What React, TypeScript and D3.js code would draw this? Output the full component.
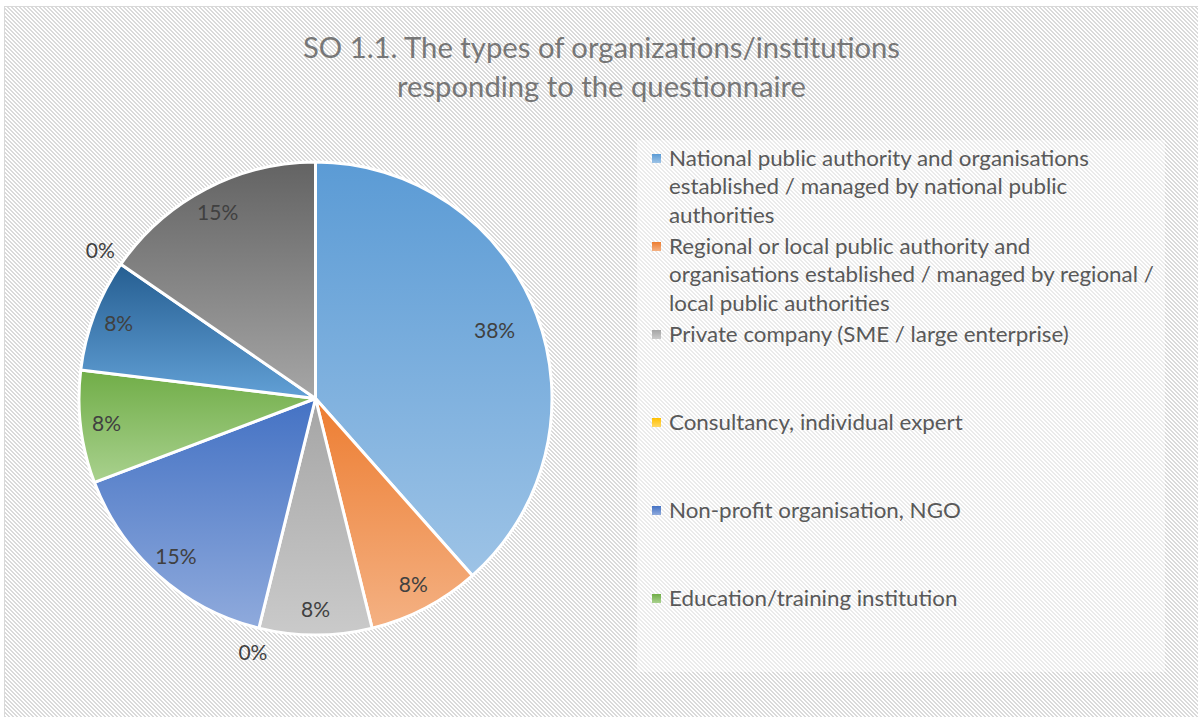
import React, { useEffect, useRef } from 'react';
import * as d3 from 'd3';

const W = 1198;
const H = 717;

const TITLE_LINES = ['SO 1.1. The types of organizations/institutions', 'responding to the questionnaire'];

const CATEGORIES = [
  'National public authority and organisations established / managed by national public authorities',
  'Regional or local public authority and organisations established / managed by regional / local public authorities',
  'Private company (SME / large enterprise)',
  'Consultancy, individual expert',
  'Non-profit organisation, NGO',
  'Education/training institution',
  'Sectoral agency',
  'International organisation',
  'Other',
];

const LEGEND_LINES = [
  ['National public authority and organisations', 'established / managed by national public', 'authorities'],
  ['Regional or local public authority and', 'organisations established / managed by regional /', 'local public authorities'],
  ['Private company (SME / large enterprise)'],
  ['Consultancy, individual expert'],
  ['Non-profit organisation, NGO'],
  ['Education/training institution'],
];

const VALUES = [5, 1, 1, 0, 2, 1, 1, 0, 2];

const COLORS_TOP = ['#5B9BD5', '#ED7D31', '#A5A5A5', '#FFC000', '#4472C4', '#70AD47', '#255E91', '#9E480E', '#636363'];
const COLORS_BOTTOM = ['#9DC3E6', '#F4B183', '#CACACA', '#FFD966', '#8FAADC', '#A9D18E', '#62A0D6', '#E59866', '#A6A6A6'];

const FONT = 'Lato, "Open Sans", "Noto Sans", sans-serif';

export default function App() {
  const ref = useRef<SVGSVGElement | null>(null);

  useEffect(() => {
    const svg = d3.select(ref.current);
    svg.selectAll('*').remove();

    const defs = svg.append('defs');
    const hatch = defs
      .append('pattern')
      .attr('id', 'hatch')
      .attr('patternUnits', 'userSpaceOnUse')
      .attr('width', 4)
      .attr('height', 4);
    hatch.append('rect').attr('width', 4).attr('height', 4).attr('fill', '#ffffff');
    [0, 1, 2, 3].forEach((row) => {
      [row, (row + 1) % 4].forEach((col) => {
        hatch
          .append('rect')
          .attr('x', col)
          .attr('y', row)
          .attr('width', 1)
          .attr('height', 1)
          .attr('fill', '#dadada')
          .attr('shape-rendering', 'crispEdges');
      });
    });

    VALUES.forEach((_, i) => {
      const g = defs
        .append('linearGradient')
        .attr('id', `grad${i}`)
        .attr('x1', 0)
        .attr('y1', 0)
        .attr('x2', 0)
        .attr('y2', 1);
      g.append('stop').attr('offset', '0%').attr('stop-color', COLORS_TOP[i]);
      g.append('stop').attr('offset', '100%').attr('stop-color', COLORS_BOTTOM[i]);
    });

    // chart area
    svg
      .append('rect')
      .attr('x', 4)
      .attr('y', 6)
      .attr('width', 1200)
      .attr('height', 720)
      .attr('fill', 'url(#hatch)')
      .attr('shape-rendering', 'crispEdges');
    svg
      .append('rect')
      .attr('x', 4.5)
      .attr('y', 6.5)
      .attr('width', 1200)
      .attr('height', 720)
      .attr('fill', 'none')
      .attr('stroke', '#d9d9d9')
      .attr('stroke-width', 1);

    // title
    const title = svg
      .append('g')
      .attr('font-family', FONT)
      .attr('font-size', 28.6)
      .attr('fill', '#777777')
      .attr('text-anchor', 'middle');
    const titleNodes = TITLE_LINES.map((t, i) =>
      title
        .append('text')
        .attr('x', 601.5)
        .attr('y', 57.5 + i * 39)
        .text(t)
    );
    const squeeze = (nodes: any[], target: number) => {
      const base = (nodes[0].node() as SVGTextElement).getComputedTextLength();
      const k = target / base;
      nodes.forEach((n) => {
        const len = (n.node() as SVGTextElement).getComputedTextLength();
        n.attr('textLength', len * k).attr('lengthAdjust', 'spacingAndGlyphs');
      });
    };
    squeeze(titleNodes, 597);

    // pie
    const cx = 315.5;
    const cy = 398.5;
    const r = 236.5;
    const total = d3.sum(VALUES);
    const pie = d3
      .pie<number>()
      .sort(null)
      .value((d) => d)
      .startAngle(0)
      .endAngle(2 * Math.PI);
    const arcs = pie(VALUES);
    const arc = d3.arc<d3.PieArcDatum<number>>().innerRadius(0).outerRadius(r);

    const pg = svg.append('g').attr('transform', `translate(${cx},${cy})`);
    pg.selectAll('path')
      .data(arcs.filter((a) => a.value > 0))
      .join('path')
      .attr('d', arc as any)
      .attr('fill', (d) => `url(#grad${d.index})`)
      .attr('stroke', '#ffffff')
      .attr('stroke-width', 3)
      .attr('stroke-linejoin', 'round');

    const lg = pg
      .append('g')
      .attr('font-family', FONT)
      .attr('font-size', 21)
      .attr('fill', '#404040')
      .attr('text-anchor', 'middle');
    arcs.forEach((a) => {
      const frac = a.value / total;
      const rr = a.value === 0 ? r + 25 : frac > 0.25 ? r * 0.81 : r * 0.89;
      const mid = (a.startAngle + a.endAngle) / 2;
      const x = rr * Math.sin(mid);
      const y = -rr * Math.cos(mid);
      lg.append('text')
        .attr('x', x)
        .attr('y', y)
        .attr('dy', '0.36em')
        .text(`${Math.round(frac * 100)}%`);
    });

    // legend
    svg
      .append('rect')
      .attr('x', 637)
      .attr('y', 140)
      .attr('width', 528)
      .attr('height', 532)
      .attr('fill', '#ffffff')
      .attr('fill-opacity', 0.45);

    const leg = svg
      .append('g')
      .attr('font-family', FONT)
      .attr('font-size', 20.8)
      .attr('fill', '#595959');
    const legNodes: any[] = [];
    LEGEND_LINES.forEach((lines, i) => {
      const base = 166 + i * 88;
      leg
        .append('rect')
        .attr('x', 652)
        .attr('y', base - 12)
        .attr('width', 9)
        .attr('height', 9)
        .attr('fill', `url(#grad${i})`);
      lines.forEach((t, j) => {
        legNodes.push(
          leg
            .append('text')
            .attr('x', 669)
            .attr('y', base + j * 28.3)
            .text(t)
        );
      });
    });
    squeeze(legNodes, 420);
  }, []);

  return (
    <svg
      ref={ref}
      width={W}
      height={H}
      style={{ position: 'absolute', left: 0, top: 0, display: 'block' }}
      aria-label={CATEGORIES.join('; ')}
    />
  );
}
